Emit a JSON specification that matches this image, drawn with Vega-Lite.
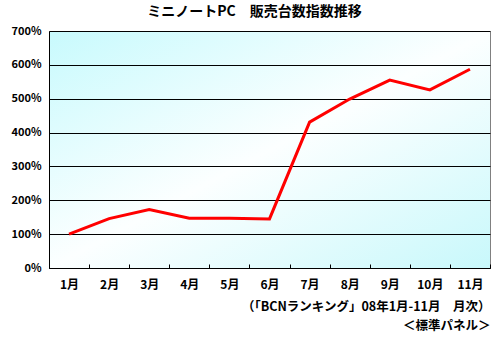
{
  "$schema": "https://vega.github.io/schema/vega-lite/v6.json",
  "width": 441,
  "height": 237,
  "autosize": "none",
  "padding": {"left": 49, "top": 31, "right": 8, "bottom": 70},
  "background": "white",
  "title": {
    "text": "ミニノートPC　販売台数指数推移",
    "font": "Noto Sans CJK JP",
    "fontSize": 14,
    "fontWeight": "bold",
    "color": "black",
    "anchor": "middle",
    "offset": 6,
    "dx": -15
  },
  "data": {
    "values": [
      {"month": "1月", "value": 100},
      {"month": "2月", "value": 146},
      {"month": "3月", "value": 173},
      {"month": "4月", "value": 147},
      {"month": "5月", "value": 147},
      {"month": "6月", "value": 145},
      {"month": "7月", "value": 431},
      {"month": "8月", "value": 499},
      {"month": "9月", "value": 555},
      {"month": "10月", "value": 526},
      {"month": "11月", "value": 587}
    ]
  },
  "mark": {"type": "line", "color": "#ff0000", "strokeWidth": 3},
  "encoding": {
    "x": {
      "field": "month",
      "type": "ordinal",
      "sort": null,
      "scale": {"type": "band", "paddingInner": 0, "paddingOuter": 0},
      "axis": {
        "labelAngle": 0,
        "tickBand": "extent",
        "tickSize": -4,
        "tickColor": "black",
        "domainColor": "black",
        "labelPadding": 15,
        "labelFont": "Noto Sans CJK JP",
        "labelFontSize": 12,
        "labelFontWeight": "bold",
        "labelColor": "black",
        "title": ["（「BCNランキング」08年1月-11月　月次）", "＜標準パネル＞"],
        "titleAnchor": "end",
        "titleFont": "Noto Sans CJK JP",
        "titleFontSize": 12.5,
        "titleFontWeight": "bold",
        "titleColor": "black",
        "titleLineHeight": 19,
        "titlePadding": 10
      }
    },
    "y": {
      "field": "value",
      "type": "quantitative",
      "scale": {"domain": [0, 700]},
      "axis": {
        "values": [0, 100, 200, 300, 400, 500, 600, 700],
        "labelExpr": "datum.value + '%'",
        "ticks": false,
        "labelPadding": 8,
        "labelFont": "Noto Sans CJK JP",
        "labelFontSize": 11,
        "labelFontWeight": "bold",
        "labelColor": "black",
        "gridColor": "black",
        "gridOpacity": 1,
        "domainColor": "black",
        "title": null
      }
    }
  },
  "config": {
    "view": {
      "stroke": "#808080",
      "strokeWidth": 1,
      "fill": {
        "gradient": "linear",
        "x1": 0, "y1": 0, "x2": 1, "y2": 1,
        "stops": [
          {"offset": 0, "color": "#c8fafd"},
          {"offset": 0.5, "color": "#fcffff"},
          {"offset": 1, "color": "#c8f8fb"}
        ]
      }
    }
  }
}
